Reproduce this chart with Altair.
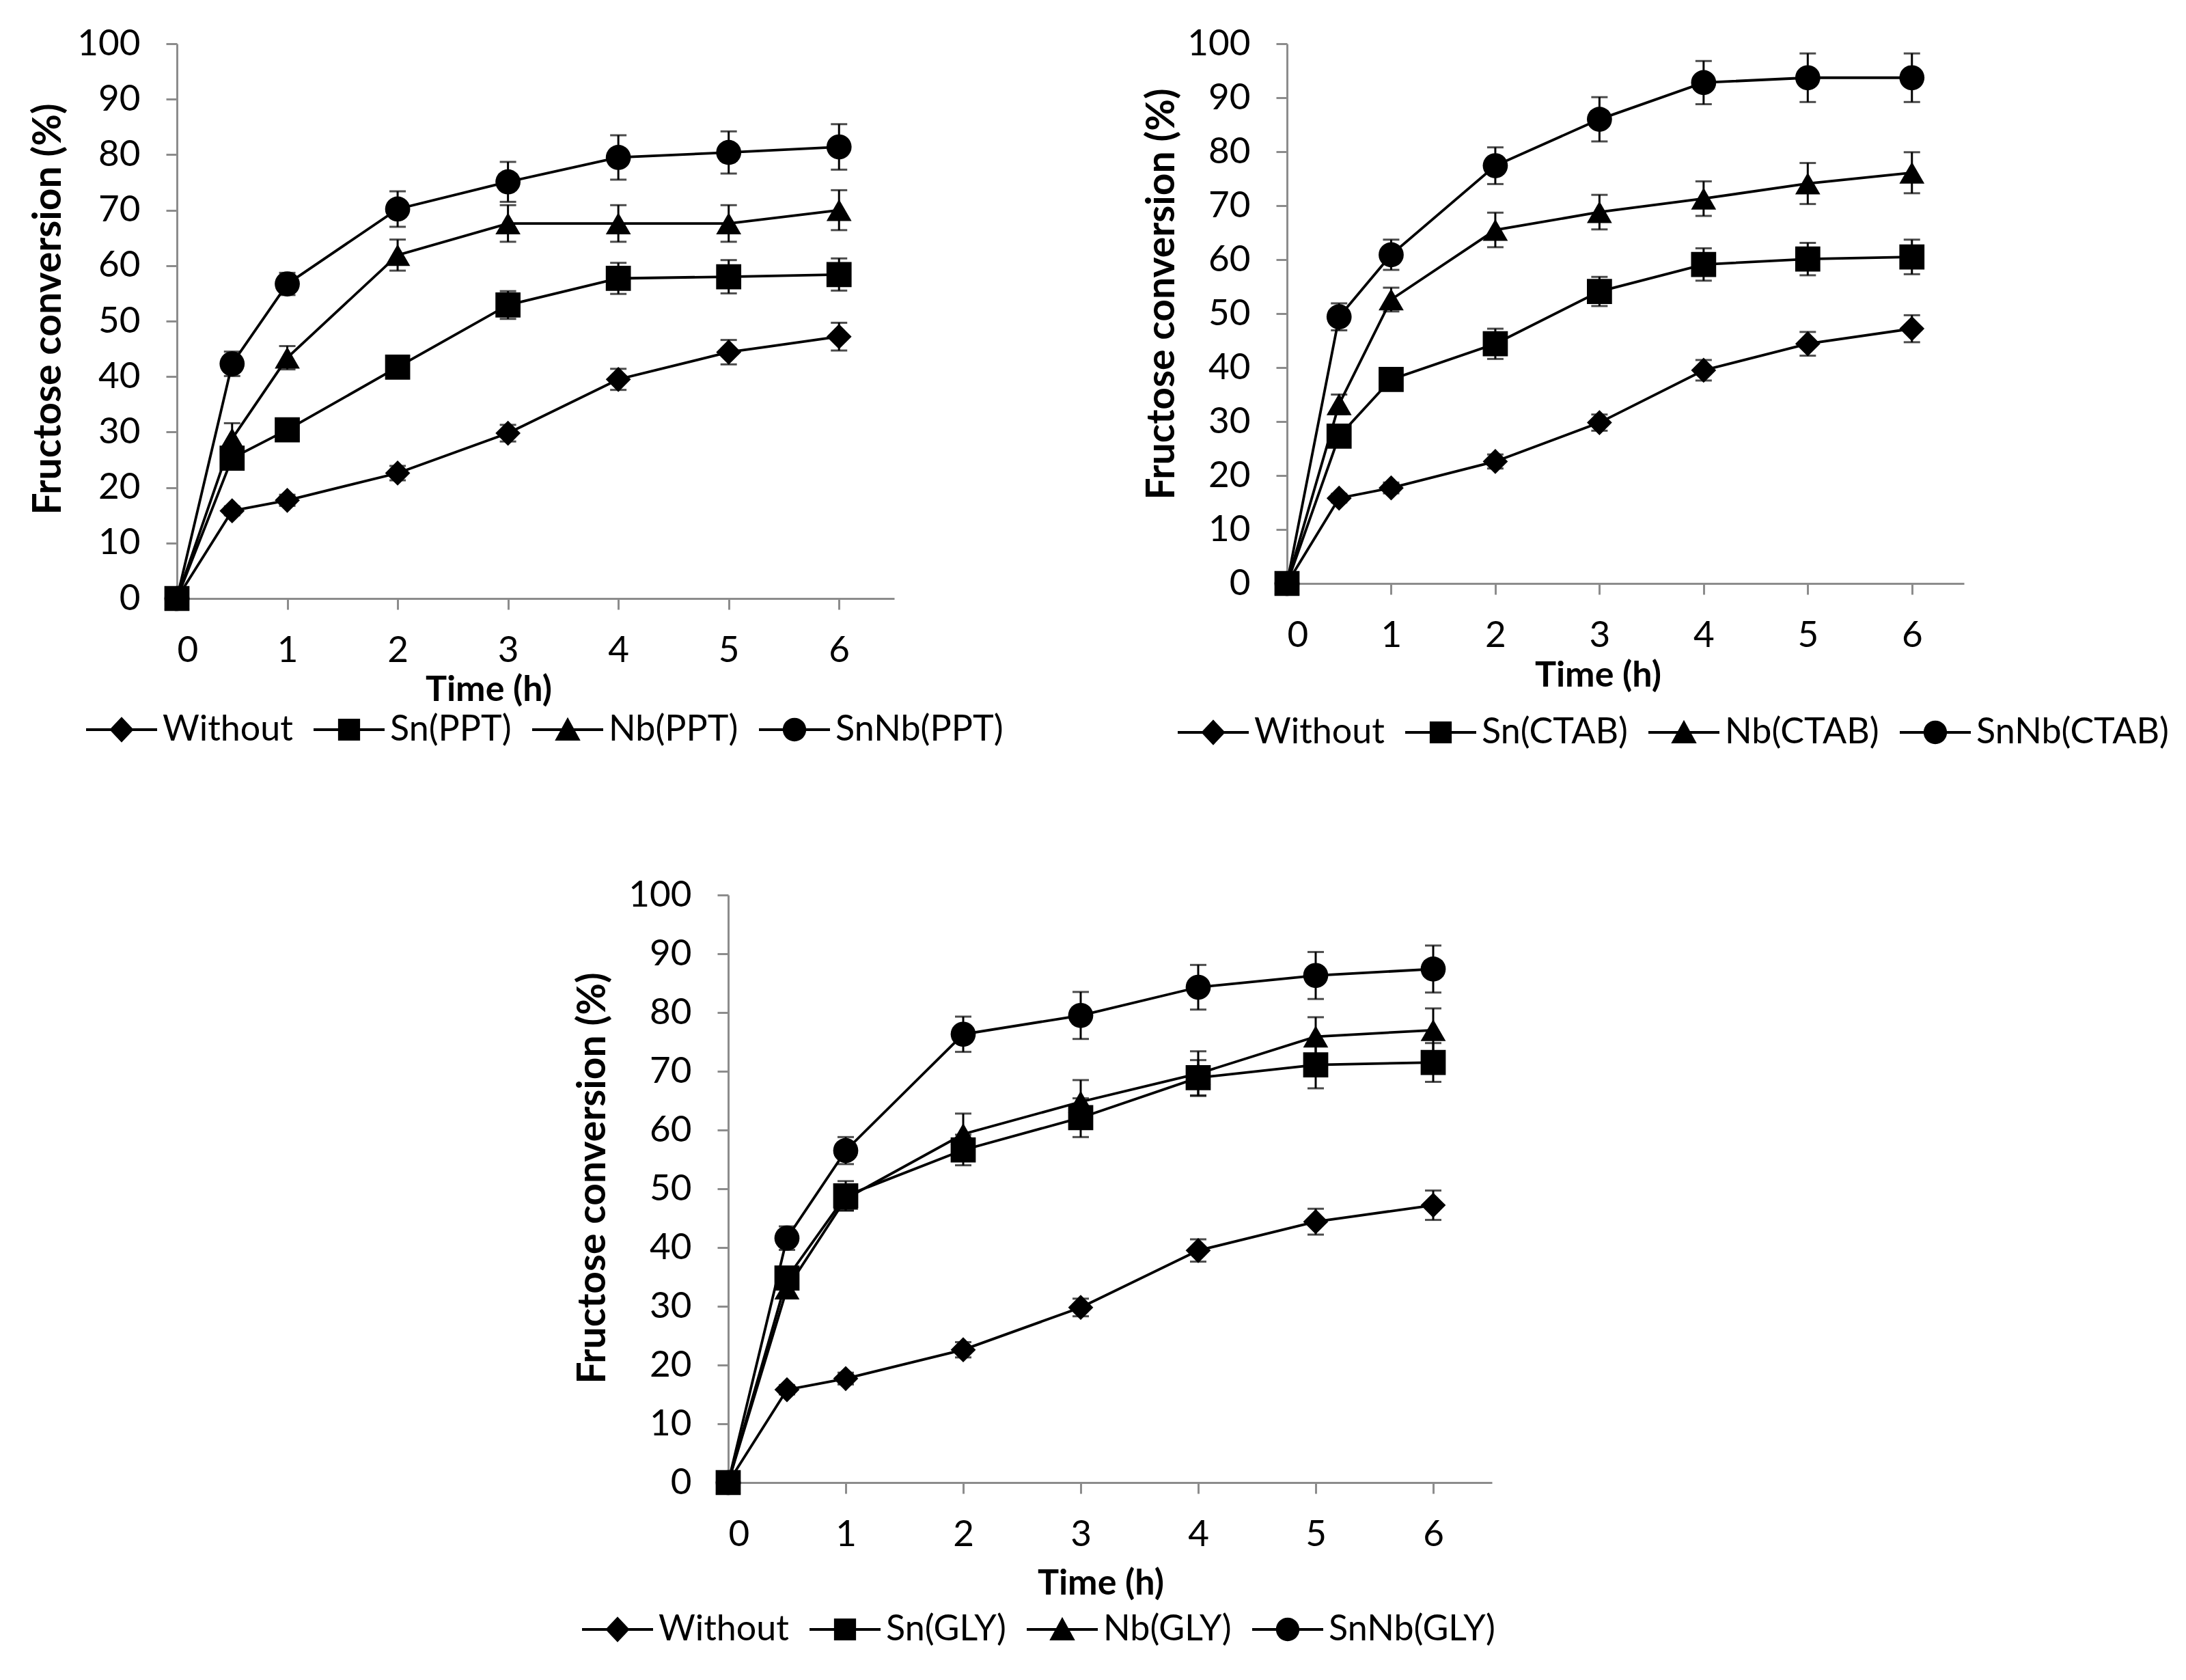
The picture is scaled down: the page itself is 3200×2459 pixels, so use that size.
import altair as alt
import pandas as pd

# time points (h)
times = [0, 0.5, 1, 2, 3, 4, 5, 6]

# fructose conversion (%) and error bars
without = [0, 15.8, 17.7, 22.6, 29.8, 39.5, 44.4, 47.2]
without_err = [0, 0.8, 1.0, 1.3, 1.5, 1.9, 2.2, 2.5]

sn_ppt = [0, 25.3, 30.4, 41.7, 52.9, 57.7, 58.0, 58.4]
sn_ppt_err = [0, 1.0, 1.2, 1.8, 2.5, 2.8, 3.0, 2.9]
nb_ppt = [0, 28.8, 43.4, 61.9, 67.6, 67.6, 67.6, 70.0]
nb_ppt_err = [0, 2.8, 2.1, 2.8, 3.3, 3.3, 3.3, 3.6]
snnb_ppt = [0, 42.3, 56.7, 70.2, 75.1, 79.5, 80.4, 81.4]
snnb_ppt_err = [0, 2.2, 2.0, 3.2, 3.6, 4.0, 3.8, 4.1]

sn_ctab = [0, 27.3, 37.8, 44.4, 54.1, 59.1, 60.1, 60.5]
sn_ctab_err = [0, 1.0, 1.5, 2.8, 2.7, 3.0, 3.0, 3.2]
nb_ctab = [0, 33.2, 52.6, 65.5, 68.8, 71.3, 74.1, 76.1]
nb_ctab_err = [0, 1.8, 2.2, 3.2, 3.2, 3.2, 3.8, 3.8]
snnb_ctab = [0, 49.4, 60.9, 77.4, 86.0, 92.8, 93.7, 93.7]
snnb_ctab_err = [0, 2.5, 2.8, 3.4, 4.1, 4.0, 4.5, 4.5]

sn_gly = [0, 34.8, 48.8, 56.6, 62.1, 68.9, 71.1, 71.5]
sn_gly_err = [0, 1.5, 2.5, 2.6, 3.3, 3.0, 4.0, 3.3]
nb_gly = [0, 33.0, 48.3, 59.3, 64.8, 69.6, 75.9, 77.0]
nb_gly_err = [0, 1.5, 2.0, 3.5, 3.7, 3.8, 3.3, 3.7]
snnb_gly = [0, 41.6, 56.5, 76.3, 79.5, 84.3, 86.3, 87.4]
snnb_gly_err = [0, 2.0, 2.3, 3.0, 4.0, 3.8, 4.0, 4.0]

shapes = ["diamond", "square", "triangle-up", "circle"]

# legend symbols: line with marker on it (unit coords)
bar = "M-1,-0.038H1V0.038H-1Z"
legend_paths = [
    bar + "M0,-0.36L0.34,0L0,0.36L-0.34,0Z",
    bar + "M-0.31,-0.31H0.31V0.31H-0.31Z",
    bar + "M0,-0.35L0.36,0.31L-0.36,0.31Z",
    bar + "M0.33,0A0.33,0.33 0 1,1 -0.33,0A0.33,0.33 0 1,1 0.33,0Z",
]

FONT = "Lato"
GREY = "#8c8c8c"


def make_df(names, series, errs):
    rows = []
    for name, vals, err in zip(names, series, errs):
        for t, v, e in zip(times, vals, err):
            rows.append({"series": name, "time": t, "conv": v, "err": e,
                         "lo": v - e, "hi": v + e})
    return pd.DataFrame(rows)


def panel(names, series, errs, w, h, xt, yt, ytx, yty, lx, ly):
    df = make_df(names, series, errs)
    x = alt.X("time:Q", scale=alt.Scale(domain=[0, 6.5], nice=False),
              axis=alt.Axis(values=[0, 1, 2, 3, 4, 5, 6], title="Time (h)",
                            titleX=xt, titleY=yt, titleBaseline="middle"))
    yaxis = alt.Axis(values=list(range(0, 101, 10)), title="Fructose conversion (%)",
                     titleX=ytx, titleY=yty, titleBaseline="middle")
    yscale = alt.Scale(domain=[0, 100], nice=False)
    base = alt.Chart(df)
    eb = base.transform_filter("datum.err > 0")
    rules = eb.mark_rule(color="black", strokeWidth=3).encode(
        x=x, y=alt.Y("lo:Q", scale=yscale, axis=yaxis), y2="hi:Q")
    cap_lo = eb.mark_tick(orient="horizontal", size=24, thickness=3, color="black").encode(
        x=x, y=alt.Y("lo:Q", scale=yscale, axis=yaxis))
    cap_hi = eb.mark_tick(orient="horizontal", size=24, thickness=3, color="black").encode(
        x=x, y=alt.Y("hi:Q", scale=yscale, axis=yaxis))
    lines = base.mark_line(color="black", strokeWidth=3.8).encode(
        x=x, y=alt.Y("conv:Q", scale=yscale, axis=yaxis), detail="series:N")
    pts = base.mark_point(filled=True, opacity=1, size=1350, color="black").encode(
        x=x, y=alt.Y("conv:Q", scale=yscale, axis=yaxis),
        shape=alt.Shape("series:N", scale=alt.Scale(domain=names, range=shapes), legend=None))
    leg = base.mark_point(filled=True, opacity=0, color="black").encode(
        x=x, y=alt.Y("conv:Q", scale=yscale, axis=yaxis),
        shape=alt.Shape("series:N", scale=alt.Scale(domain=names, range=legend_paths),
                        legend=alt.Legend(title=None, orient="none", legendX=lx, legendY=ly,
                                          direction="horizontal", columns=4,
                                          symbolSize=104 * 104, symbolFillColor="black",
                                          symbolStrokeWidth=0, symbolOpacity=1,
                                          labelFont=FONT, labelFontSize=52, labelColor="black",
                                          labelLimit=0, labelOffset=8, columnPadding=30,
                                          padding=0)))
    return alt.layer(rules, cap_lo, cap_hi, lines, pts, leg).resolve_scale(
        shape="independent").properties(width=w, height=h)


p1 = panel(["Without", "Sn(PPT)", "Nb(PPT)", "SnNb(PPT)"],
           [without, sn_ppt, nb_ppt, snnb_ppt],
           [without_err, sn_ppt_err, nb_ppt_err, snnb_ppt_err],
           1050, 812, 456, 133, -188, 388, -133, 952)
p2 = panel(["Without", "Sn(CTAB)", "Nb(CTAB)", "SnNb(CTAB)"],
           [without, sn_ctab, nb_ctab, snnb_ctab],
           [without_err, sn_ctab_err, nb_ctab_err, snnb_ctab_err],
           991, 790, 455, 134, -183, 366, -160, 956)
p3 = panel(["Without", "Sn(GLY)", "Nb(GLY)", "SnNb(GLY)"],
           [without, sn_gly, nb_gly, snnb_gly],
           [without_err, sn_gly_err, nb_gly_err, snnb_gly_err],
           1118, 860, 545, 147, -198, 414, -214, 1023)

spacer = alt.Chart(pd.DataFrame({"v": [0]})).mark_point(opacity=0).encode(
    x=alt.value(0), y=alt.value(0)).properties(width=1, height=1)

top = alt.hconcat(p1, p2, spacing=575, bounds="flush")
bottom = alt.hconcat(spacer, p3, spacing=806, bounds="flush")

chart = alt.vconcat(top, bottom, spacing=186).properties(
    padding={"left": 33, "top": 30, "right": 0, "bottom": 0}
).configure_view(stroke=None).configure_axis(
    grid=False, domainColor=GREY, domainWidth=3, tickColor=GREY, tickWidth=3,
    labelFont=FONT, labelFontSize=53, labelColor="black",
    titleFont=FONT, titleFontWeight="bold", titleColor="black"
).configure_axisY(tickSize=16, labelPadding=38, titleFontSize=57).configure_axisX(
    tickSize=16, labelPadding=34, titleFontSize=52)

chart.save("out.html", embed_options={"renderer": "svg", "actions": False})
